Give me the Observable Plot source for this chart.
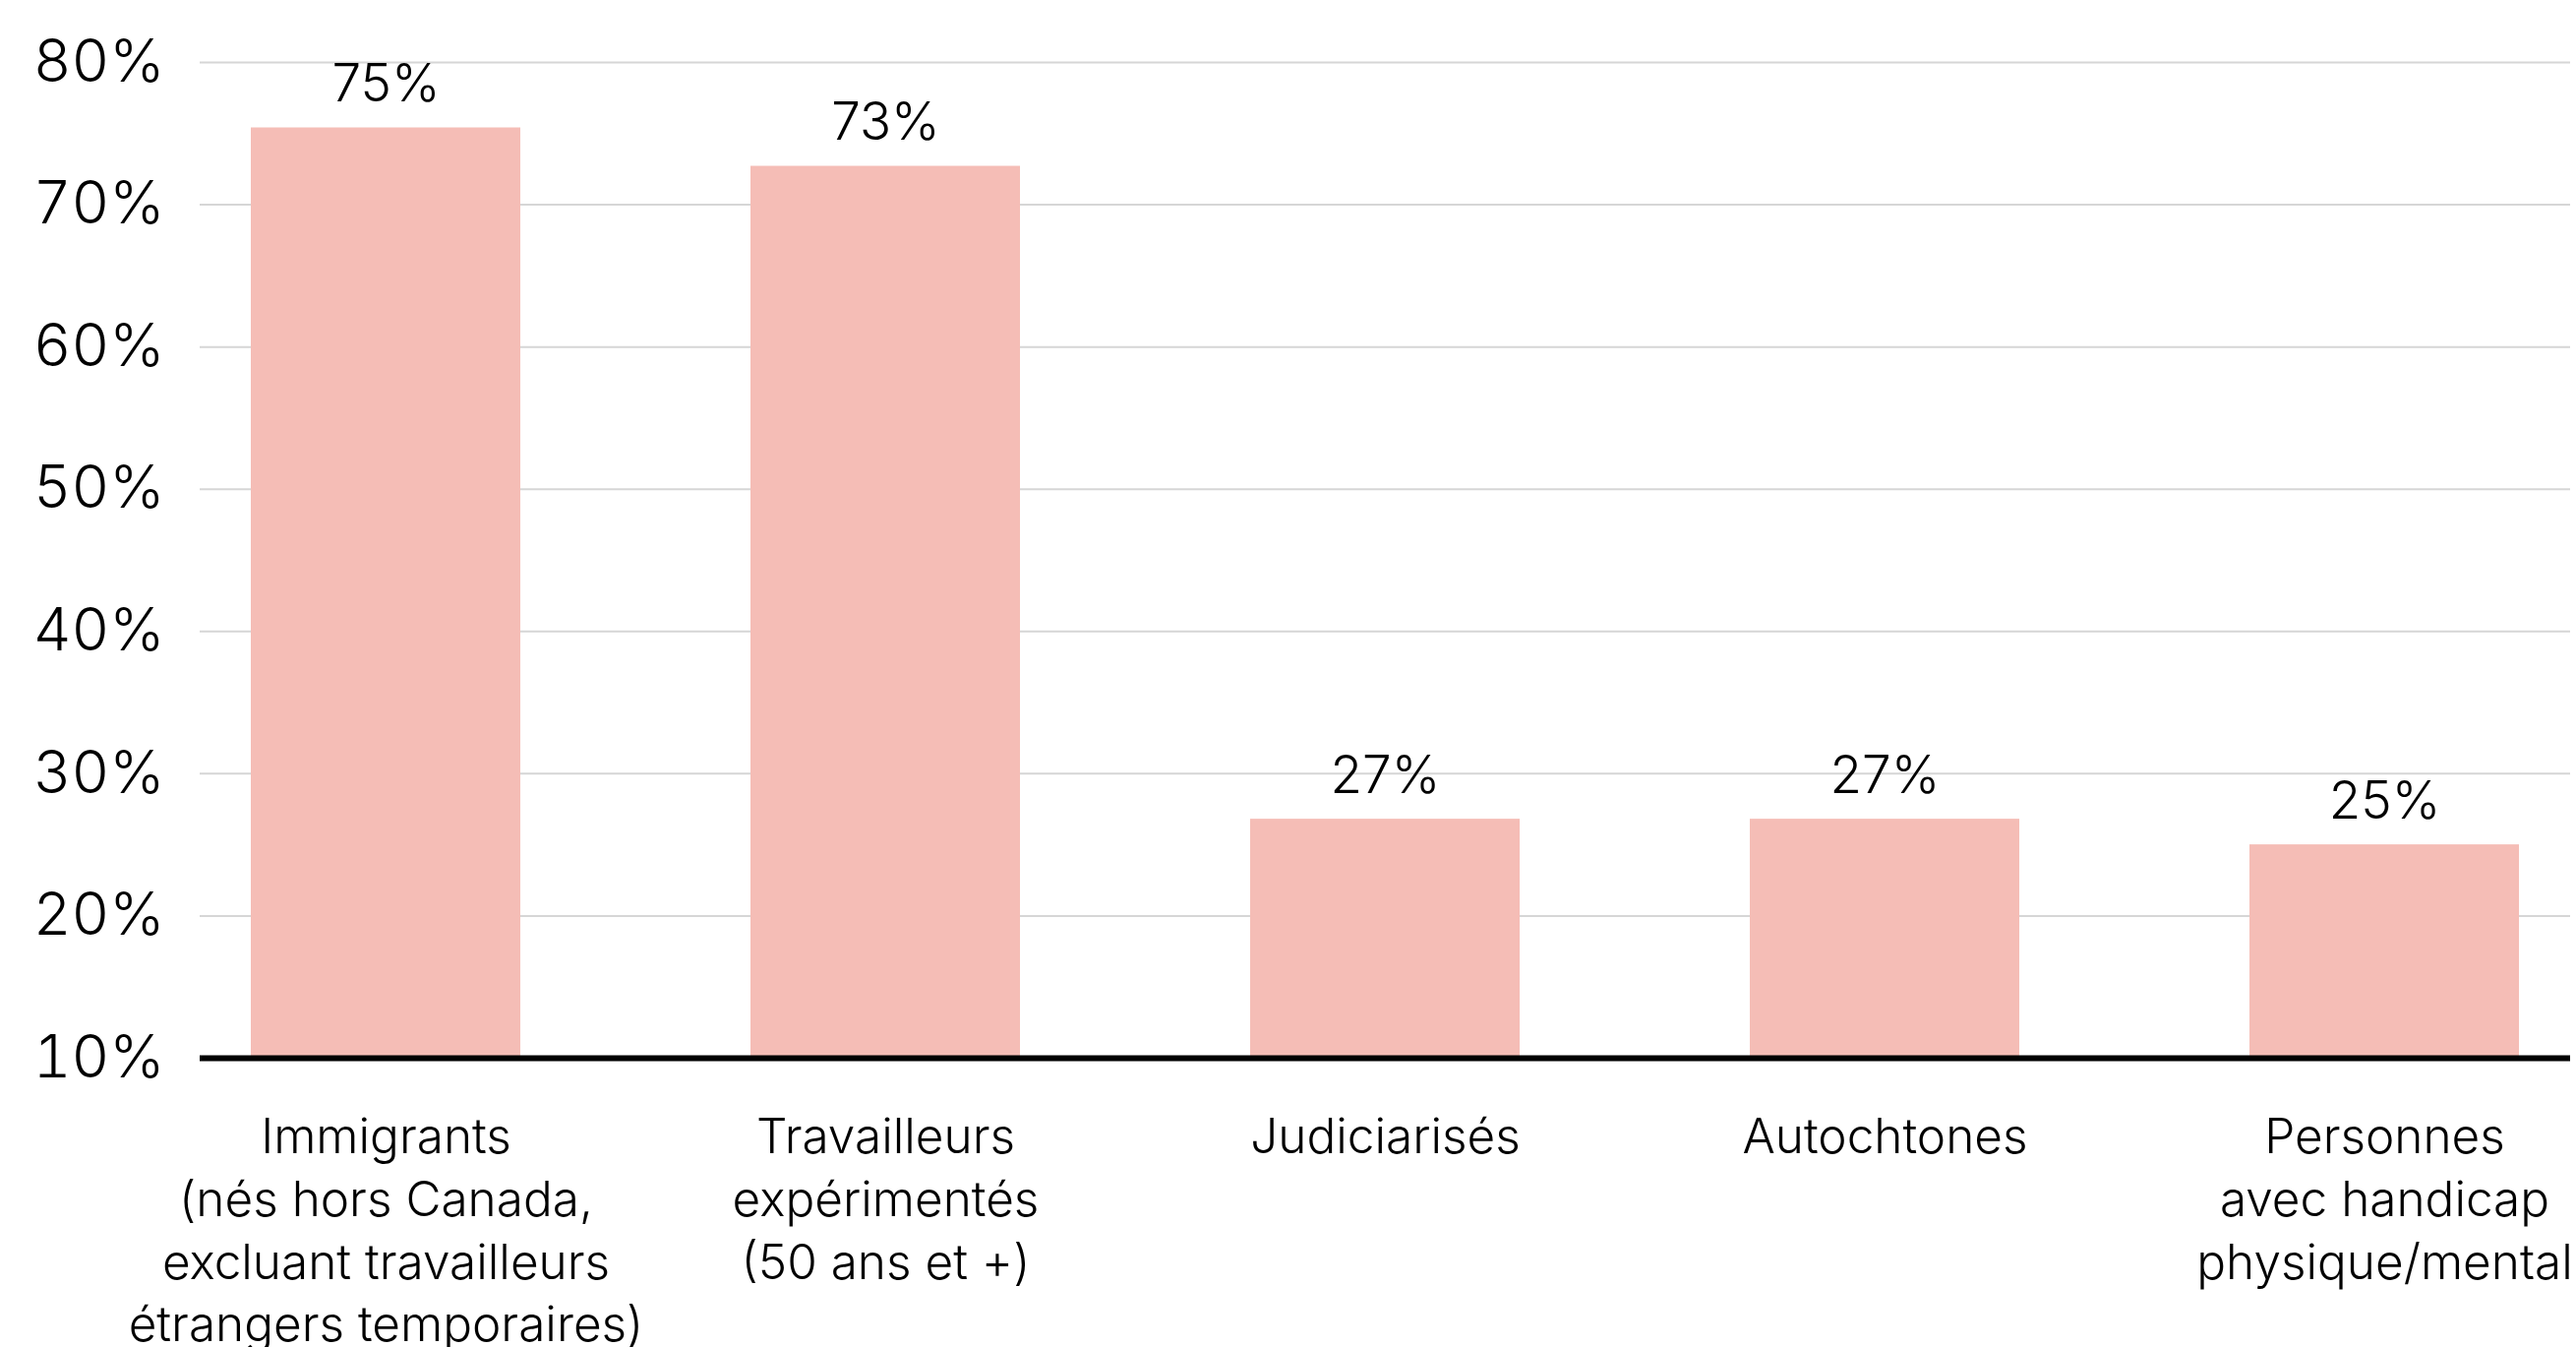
<!DOCTYPE html>
<html>
<head>
<meta charset="utf-8">
<script src="https://cdn.jsdelivr.net/npm/d3@7"></script>
<script src="https://cdn.jsdelivr.net/npm/@observablehq/plot@0.6"></script>
<style>
  html, body { margin: 0; padding: 0; background: #fff; overflow: hidden; }
  #chart svg { display: block; }
</style>
</head>
<body>
<div id="chart"></div>
<script>
const categories = [
  "Immigrants\n(nés hors Canada,\nexcluant travailleurs\nétrangers temporaires)",
  "Travailleurs\nexpérimentés\n(50 ans et +)",
  "Judiciarisés",
  "Autochtones",
  "Personnes\navec handicap\nphysique/mental"
];
const values = [75.4, 72.7, 26.8, 26.8, 25.0];
const valueLabels = ["75%", "73%", "27%", "27%", "25%"];
const yTicks = [10, 20, 30, 40, 50, 60, 70, 80];

const data = categories.map((c, i) => ({category: c, value: values[i], label: valueLabels[i]}));

const chart = Plot.plot({
  width: 2619,
  height: 1369,
  marginTop: 63,
  marginBottom: 294,
  marginLeft: 203,
  marginRight: 6,
  style: {fontFamily: "Inter, sans-serif", fontWeight: 300, color: "#000", background: "#fff"},
  x: {domain: categories, paddingInner: 0.46, paddingOuter: 0.1, label: null},
  y: {domain: [10, 80], label: null},
  marks: [
    Plot.gridY(yTicks.filter(d => d > 10), {stroke: "#d6d6d6", strokeOpacity: 1, strokeWidth: 2}),
    Plot.barY(data, {x: "category", y1: () => 10, y2: "value", fill: "#f5bdb6"}),
    Plot.ruleY([10], {stroke: "#000", strokeWidth: 6}),
    Plot.text(data, {x: "category", y: "value", text: "label", lineAnchor: "bottom", dy: -27, fontSize: 53, fill: "#000"}),
    Plot.axisY(yTicks, {tickSize: 0, tickPadding: 36, fontSize: 60, tickFormat: d => d + "%", label: null}),
    Plot.axisX({tickSize: 0, tickPadding: 51, fontSize: 49.5, lineHeight: 1.29, label: null})
  ]
});
document.getElementById("chart").appendChild(chart);
</script>
</body>
</html>
